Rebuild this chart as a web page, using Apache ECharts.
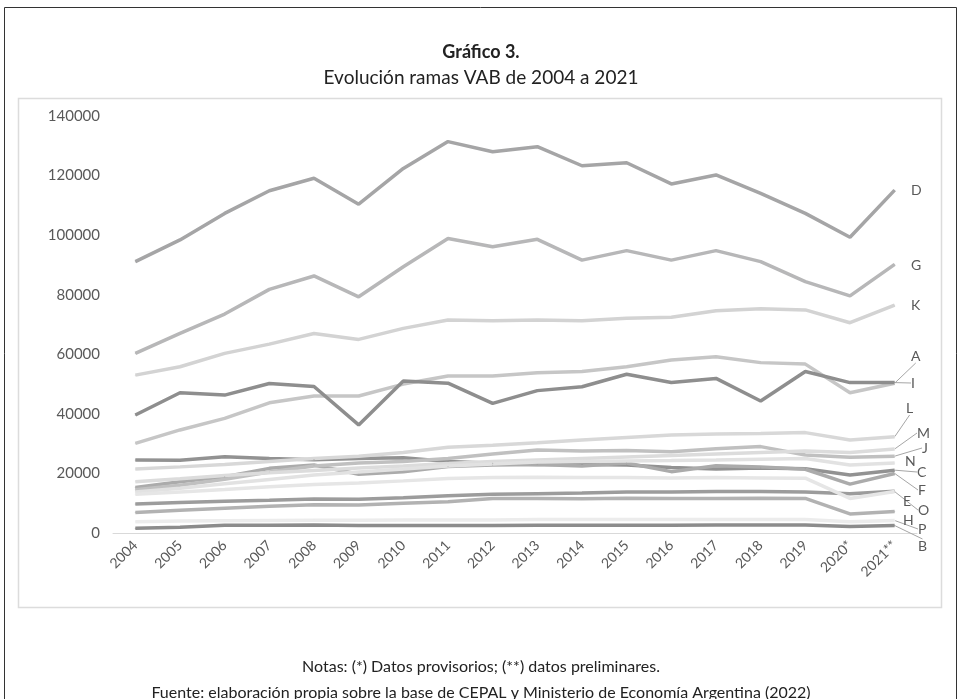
<!DOCTYPE html>
<html>
<head>
<meta charset="utf-8">
<script src="https://cdn.jsdelivr.net/npm/echarts@6/dist/echarts.min.js"></script>
<style>
html, body { margin: 0; padding: 0; background: #fff; }
#chart { width: 962px; height: 699px; }
</style>
</head>
<body>
<div id="chart"></div>
<script>
// años (categorías)
var years = ['2004', '2005', '2006', '2007', '2008', '2009', '2010', '2011', '2012',
  '2013', '2014', '2015', '2016', '2017', '2018', '2019', '2020*', '2021**'];

// ramas VAB
var ramaA = [30100, 34600, 38500, 43700, 46000, 46000, 50000, 52700, 52700, 53800, 54200, 55800, 58100, 59200, 57200, 56700, 47100, 50300];
var ramaB = [1600, 1900, 2600, 2600, 2700, 2500, 2500, 2500, 2500, 2600, 2600, 2600, 2600, 2700, 2700, 2700, 2200, 2500];
var ramaC = [24500, 24400, 25600, 25000, 24600, 25000, 25300, 24000, 23400, 23000, 23000, 22800, 22000, 21500, 21800, 21600, 19500, 21100];
var ramaD = [91100, 98400, 107300, 114900, 119100, 110400, 122400, 131400, 128000, 129700, 123300, 124300, 117200, 120200, 114000, 107300, 99300, 115100];
var ramaE = [9700, 10200, 10700, 11000, 11400, 11300, 11800, 12500, 13000, 13200, 13400, 13800, 13800, 13900, 13900, 13800, 13200, 14000];
var ramaF = [15300, 17200, 18900, 21700, 22800, 19700, 20600, 22300, 22800, 23000, 22500, 23500, 20600, 22600, 22200, 21400, 16400, 20000];
var ramaG = [60300, 67000, 73500, 81800, 86300, 79300, 89400, 98900, 96100, 98600, 91600, 94800, 91600, 94800, 91100, 84400, 79600, 90200];
var ramaH = [6900, 7600, 8300, 9000, 9500, 9400, 10000, 10500, 11600, 11600, 11500, 11700, 11600, 11600, 11700, 11600, 6400, 7200];
var ramaI = [39600, 47100, 46300, 50200, 49200, 36300, 51000, 50300, 43500, 47800, 49100, 53300, 50500, 51900, 44300, 54200, 50500, 50500];
var ramaJ = [14500, 16000, 18000, 20500, 22500, 23500, 24000, 25000, 26500, 27900, 27500, 27700, 27300, 28300, 29000, 26200, 25400, 25800];
var ramaK = [53000, 55800, 60300, 63400, 67000, 65000, 68700, 71500, 71300, 71500, 71300, 72100, 72400, 74600, 75300, 74900, 70600, 76500];
var ramaL = [21500, 22200, 23000, 24000, 25000, 25800, 27000, 28800, 29500, 30300, 31200, 32100, 32900, 33200, 33400, 33700, 31200, 32300];
var ramaM = [17200, 18200, 19300, 20200, 21000, 21800, 22500, 23300, 24000, 24500, 25000, 25500, 26000, 26500, 27000, 27500, 27000, 28200];
var ramaN = [13800, 15000, 16500, 18000, 19500, 20500, 21500, 22500, 23200, 23800, 24000, 24200, 24300, 24500, 24800, 25000, 22800, 23500];
var ramaO = [13000, 13800, 14600, 15500, 16300, 16800, 17500, 18300, 18600, 18700, 18600, 18600, 18500, 18600, 18500, 18400, 11600, 13900];
var ramaP = [3800, 4000, 4100, 4200, 4300, 4300, 4400, 4400, 4400, 4500, 4500, 4500, 4500, 4500, 4500, 4500, 3800, 4200];

var series = [
  { name: 'A', data: ramaA }, { name: 'B', data: ramaB }, { name: 'C', data: ramaC },
  { name: 'D', data: ramaD }, { name: 'E', data: ramaE }, { name: 'F', data: ramaF },
  { name: 'G', data: ramaG }, { name: 'H', data: ramaH }, { name: 'I', data: ramaI },
  { name: 'J', data: ramaJ }, { name: 'K', data: ramaK }, { name: 'L', data: ramaL },
  { name: 'M', data: ramaM }, { name: 'N', data: ramaN }, { name: 'O', data: ramaO },
  { name: 'P', data: ramaP }
];

// estilo de cada serie
var colores = {
  A: '#c6c6c6', B: '#8c8c8c', C: '#929292', D: '#a5a5a6', E: '#9c9c9c', F: '#ababab',
  G: '#b7b7b8', H: '#b2b2b2', I: '#8e8e8e', J: '#c0c0c0', K: '#d3d3d3', L: '#d8d8d8',
  M: '#dcdcdc', N: '#e2e2e2', O: '#e6e6e6', P: '#ececec'
};
// posición de las etiquetas (arrastradas a mano en el original)
var etiquetaX = { D: 911, G: 911, K: 911, A: 911, I: 911, L: 906, M: 917, J: 922, N: 905,
  C: 917, F: 918, E: 903, O: 918, H: 903, P: 918, B: 918 };
var etiquetaY = { D: 190, G: 265, K: 305, A: 356, I: 383, L: 408, M: 433, J: 448, N: 461,
  C: 472, F: 490, E: 501, O: 510, H: 520, P: 529, B: 546 };
var conGuia = { A: 1, I: 1, L: 1, M: 1, J: 1, C: 1, F: 1, O: 1, P: 1, B: 1 };

var fuente = 'Lato, "Open Sans", sans-serif';
var myChart = echarts.init(document.getElementById('chart'));

var option = {
  animation: false,
  backgroundColor: '#fff',
  textStyle: { fontFamily: fuente },
  title: [
    { text: 'Gráfico 3.', left: 'center', top: 38,
      textStyle: { fontFamily: fuente, fontSize: 18, fontWeight: 'bold', color: '#222' } },
    { text: 'Evolución ramas VAB de 2004 a 2021', left: 'center', top: 63,
      textStyle: { fontFamily: fuente, fontSize: 19, fontWeight: 'normal', color: '#222' } },
    { text: 'Notas: (*) Datos provisorios; (**) datos preliminares.', left: 'center', top: 654,
      textStyle: { fontFamily: fuente, fontSize: 16, fontWeight: 'normal', color: '#222' } },
    { text: 'Fuente: elaboración propia sobre la base de CEPAL y Ministerio de Economía Argentina (2022)', left: 'center', top: 680,
      textStyle: { fontFamily: fuente, fontSize: 16, fontWeight: 'normal', color: '#222' } }
  ],
  graphic: [
    { type: 'rect', z: -10, silent: true,
      shape: { x: 4.5, y: 7.5, width: 952, height: 720 },
      style: { fill: null, stroke: '#333', lineWidth: 1 } },
    { type: 'rect', z: -10, silent: true,
      shape: { x: 18.5, y: 98.5, width: 923, height: 509 },
      style: { fill: null, stroke: '#dcdcdc', lineWidth: 1.5 } }
  ],
  grid: { left: 113, right: 45, top: 116, bottom: 166 },
  xAxis: {
    type: 'category',
    data: years,
    boundaryGap: true,
    axisTick: { show: false },
    axisLine: { show: true, lineStyle: { color: '#d9d9d9', width: 1 } },
    axisLabel: { color: '#595959', fontSize: 14, rotate: 45, interval: 0, margin: 10 }
  },
  yAxis: {
    type: 'value',
    min: 0,
    max: 140000,
    interval: 20000,
    splitLine: { show: false },
    axisLine: { show: false },
    axisTick: { show: false },
    axisLabel: {
      color: '#595959', fontSize: 15, margin: 13,
      formatter: function (v) { return String(v); }
    }
  },
  series: series.map(function (s) {
    var n = s.data.length;
    return {
      name: s.name,
      type: 'line',
      symbol: 'circle',
      symbolSize: 1,
      showSymbol: true,
      showAllSymbol: true,
      silent: true,
      emphasis: { disabled: true },
      itemStyle: { color: colores[s.name] },
      lineStyle: { color: colores[s.name], width: 3.5 },
      data: s.data.map(function (v, i) {
        if (i === n - 1) {
          return { value: v, label: { show: true } };
        }
        return v;
      }),
      label: {
        show: false,
        formatter: '{a}',
        color: '#595959',
        fontSize: 14,
        fontFamily: fuente
      },
      labelLine: {
        show: !!conGuia[s.name],
        lineStyle: { color: '#a6a6a6', width: 1 }
      },
      labelLayout: function () {
        return { x: etiquetaX[s.name], y: etiquetaY[s.name], align: 'left', verticalAlign: 'middle' };
      }
    };
  })
};

myChart.setOption(option);
</script>
</body>
</html>
